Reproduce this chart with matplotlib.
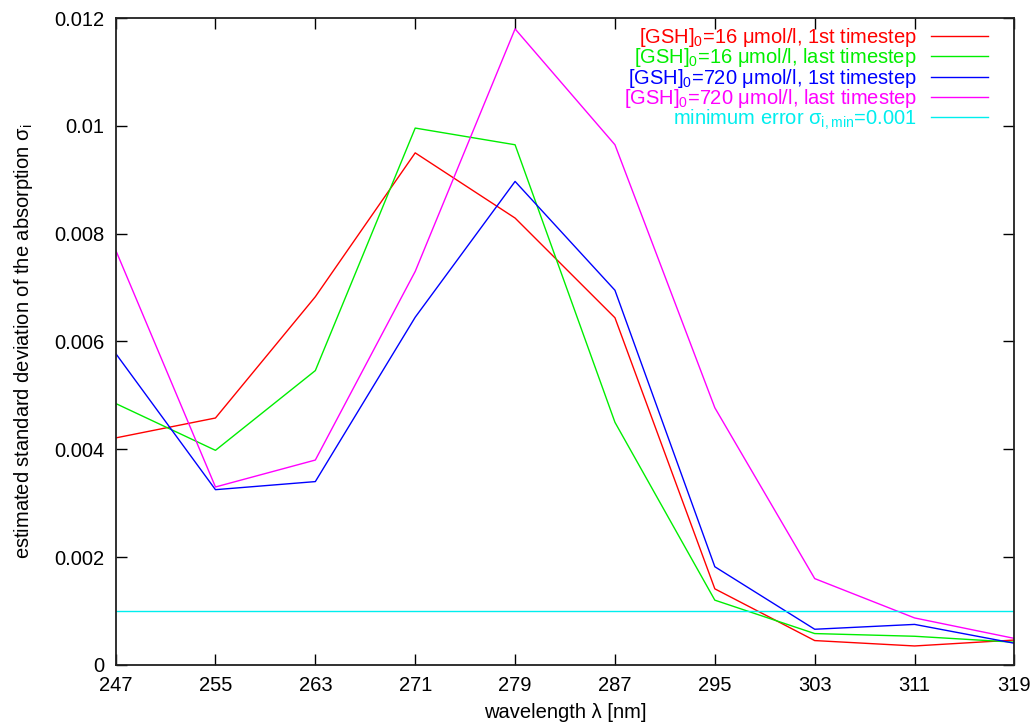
import matplotlib
matplotlib.use("Agg")
import matplotlib.pyplot as plt

plt.rcParams["font.family"] = ["Liberation Sans", "DejaVu Sans"]
plt.rcParams["mathtext.fontset"] = "custom"
plt.rcParams["mathtext.rm"] = "Liberation Sans"
plt.rcParams["mathtext.it"] = "Liberation Sans"
plt.rcParams["mathtext.default"] = "regular"

# data
wavelength = [247, 255, 263, 271, 279, 287, 295, 303, 311, 319]
gsh16_first = [0.00421, 0.00458, 0.00683, 0.00950, 0.00829, 0.00644, 0.00141, 0.00045, 0.00035, 0.00046]
gsh16_last = [0.00485, 0.00398, 0.00546, 0.00996, 0.00965, 0.00450, 0.00120, 0.00058, 0.00053, 0.00042]
gsh720_first = [0.00578, 0.00325, 0.00340, 0.00645, 0.00897, 0.00695, 0.00182, 0.00066, 0.00075, 0.00040]
gsh720_last = [0.00770, 0.00330, 0.00380, 0.00730, 0.01180, 0.00965, 0.00477, 0.00160, 0.00087, 0.00049]
sigma_min = 0.001

yticks = [0, 0.002, 0.004, 0.006, 0.008, 0.01, 0.012]
ytick_labels = ["0", "0.002", "0.004", "0.006", "0.008", "0.01", "0.012"]

series = [
    (gsh16_first, "#ff0000", "[GSH]$_0$=16 μmol/l, 1st timestep"),
    (gsh16_last, "#00ee00", "[GSH]$_0$=16 μmol/l, last timestep"),
    (gsh720_first, "#0000ff", "[GSH]$_0$=720 μmol/l, 1st timestep"),
    (gsh720_last, "#ff00ff", "[GSH]$_0$=720 μmol/l, last timestep"),
]

fig = plt.figure(figsize=(10.32, 7.25), dpi=100)
ax = fig.add_axes([0.112, 0.083, 0.871, 0.892])

for vals, color, label in series:
    ax.plot(wavelength, vals, color=color, linewidth=1.0, label=label)
ax.axhline(sigma_min, color="#00eeee", linewidth=1.0,
           label=r"minimum error σ$_{i,min}$=0.001")

ax.set_xlim(247, 319)
ax.set_ylim(0, 0.012)
ax.set_xticks(wavelength)
ax.set_yticks(yticks)
ax.set_yticklabels(ytick_labels)
ax.tick_params(direction="in", length=8, width=1, top=True, right=True,
               labelsize=14.5, pad=8)
for s in ax.spines.values():
    s.set_linewidth(1.3)
    s.set_color("#202020")

ax.set_xlabel("wavelength λ [nm]", fontsize=14.5, labelpad=6)
ax.set_ylabel("estimated standard deviation of the absorption σ$_i$", fontsize=14.5, labelpad=14)

leg = ax.legend(loc="upper right", bbox_to_anchor=(0.971, 0.988), frameon=False,
                markerfirst=False, fontsize=14.5, labelcolor="linecolor",
                handlelength=2.85, handletextpad=0.7, labelspacing=-0.13,
                borderaxespad=0, borderpad=0)

fig.savefig("out.png", dpi=100)
